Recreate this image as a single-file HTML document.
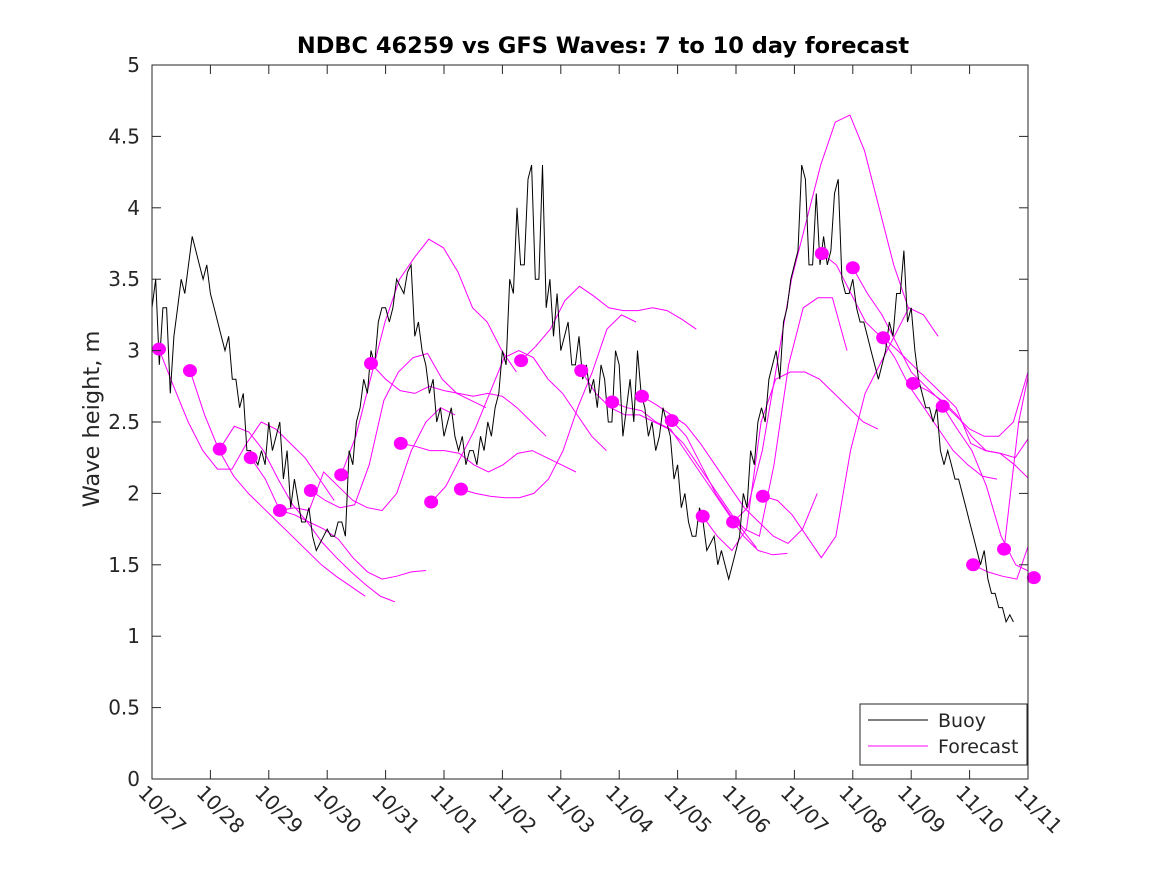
<!DOCTYPE html>
<html><head><meta charset="utf-8"><style>
body{margin:0;background:#fff;}
svg text{font-family:"DejaVu Sans","Liberation Sans",sans-serif;fill:#262626;}
</style></head><body>
<svg id="chart" width="1167" height="875" viewBox="0 0 1167 875" xmlns="http://www.w3.org/2000/svg">
<rect width="1167" height="875" fill="#fff"/>
<text x="603" y="53" text-anchor="middle" font-size="22.5" font-weight="bold" style="fill:#000">NDBC 46259 vs GFS Waves: 7 to 10 day forecast</text>
<text transform="translate(99,419) rotate(-90)" text-anchor="middle" font-size="22.5">Wave height, m</text>
<defs><clipPath id="pc"><rect x="152" y="65" width="876" height="714"/></clipPath></defs>
<g id="plot" clip-path="url(#pc)"></g>
<g id="dots"></g>
<g id="axes"></g>
<g>
<rect x="860" y="704" width="167" height="61" fill="#fff" stroke="#262626" stroke-width="1"/>
<line x1="868" y1="720" x2="928" y2="720" stroke="#000" stroke-width="1"/>
<text x="938" y="727" font-size="19">Buoy</text>
<line x1="868" y1="746" x2="928" y2="746" stroke="#f0f" stroke-width="1"/>
<text x="938" y="753" font-size="19">Forecast</text>
</g>
</svg>
<script>
const xTickLabels=["10/27","10/28","10/29","10/30","10/31","11/01","11/02","11/03","11/04","11/05","11/06","11/07","11/08","11/09","11/10","11/11"];
const yTicks=[0,0.5,1,1.5,2,2.5,3,3.5,4,4.5,5];
const buoyStep=0.0625;
const buoyValues=[3.3,3.5,2.9,3.3,3.3,2.7,3.1,3.3,3.5,3.4,3.6,3.8,3.7,3.6,3.5,3.6,3.4,3.3,3.2,3.1,3.0,3.1,2.8,2.8,2.6,2.7,2.3,2.3,2.25,2.2,2.3,2.2,2.5,2.3,2.4,2.5,2.1,2.3,1.9,2.1,1.95,1.8,1.8,1.9,1.7,1.6,1.65,1.7,1.75,1.7,1.7,1.8,1.8,1.7,2.3,2.2,2.5,2.6,2.8,2.7,3.0,2.9,3.2,3.3,3.3,3.2,3.3,3.5,3.45,3.4,3.55,3.6,3.1,3.2,3.0,2.9,2.7,2.8,2.5,2.6,2.4,2.5,2.6,2.4,2.3,2.4,2.2,2.3,2.3,2.2,2.4,2.3,2.5,2.4,2.6,2.7,3.0,2.9,3.5,3.4,4.0,3.6,3.6,4.2,4.3,3.5,3.5,4.3,3.3,3.5,3.1,3.4,3.0,3.1,3.2,2.9,2.9,3.1,2.8,2.9,2.7,2.8,2.6,2.9,2.8,2.5,2.5,3.0,2.9,2.4,2.6,2.8,2.5,3.0,2.7,2.6,2.4,2.5,2.3,2.4,2.6,2.5,2.4,2.1,2.2,1.9,2.0,1.8,1.7,1.7,1.9,1.8,1.6,1.65,1.7,1.5,1.6,1.5,1.4,1.5,1.6,1.7,2.0,1.9,2.3,2.2,2.5,2.6,2.5,2.8,2.9,3.0,2.8,3.2,3.3,3.5,3.6,3.7,4.3,4.2,3.6,3.6,4.1,3.6,3.8,3.6,3.7,4.1,4.2,3.5,3.4,3.4,3.5,3.3,3.2,3.2,3.1,3.0,2.9,2.8,2.9,3.0,3.2,3.1,3.4,3.4,3.7,3.2,3.3,3.0,2.8,2.7,2.6,2.6,2.5,2.6,2.3,2.2,2.3,2.2,2.1,2.1,2.0,1.9,1.8,1.7,1.6,1.5,1.6,1.4,1.3,1.3,1.2,1.2,1.1,1.15,1.1];
const fcStep=0.25;
const fcStarts=[0.12,0.65,1.16,1.69,2.19,2.72,3.24,3.75,4.26,4.78,5.29,6.32,7.35,7.88,8.39,8.9,9.43,9.95,10.46,11.47,12.0,12.52,13.03,13.54,14.06,14.59,15.1];
const fcValues=[
[3.01,2.75,2.5,2.3,2.17,2.17,2.35,2.5,2.45,2.35,2.25,2.1,1.95],
[2.86,2.55,2.3,2.12,2.0,1.9,1.8,1.7,1.6,1.5,1.42,1.35,1.28],
[2.31,2.47,2.43,2.3,2.1,1.92,1.8,1.66,1.55,1.45,1.36,1.28,1.24],
[2.25,2.1,1.88,1.85,1.8,1.75,1.68,1.55,1.45,1.4,1.42,1.45,1.46],
[1.88,1.9,1.88,2.15,2.05,1.95,1.9,1.88,2.0,2.3,2.5,2.6,2.55],
[2.02,1.95,1.9,1.92,2.2,2.65,2.85,2.95,2.98,2.8,2.7,2.65,2.6],
[2.13,2.4,2.8,3.2,3.5,3.65,3.78,3.72,3.55,3.3,3.2,3.0,2.85],
[2.91,2.8,2.72,2.7,2.75,2.72,2.7,2.68,2.7,2.68,2.6,2.5,2.4],
[2.35,2.33,2.3,2.3,2.28,2.2,2.15,2.2,2.28,2.3,2.25,2.2,2.15],
[1.94,2.05,2.25,2.45,2.7,2.95,3.0,2.95,2.8,2.7,2.55,2.4,2.3],
[2.03,2.0,1.98,1.97,1.97,2.0,2.1,2.3,2.6,2.85,3.15,3.25,3.2],
[2.93,3.03,3.15,3.35,3.45,3.38,3.3,3.28,3.28,3.3,3.28,3.22,3.15],
[2.86,2.7,2.6,2.55,2.55,2.5,2.45,2.35,2.2,2.05,1.9,1.75,1.62],
[2.64,2.6,2.58,2.5,2.45,2.3,2.15,2.0,1.85,1.7,1.6,1.57,1.58],
[2.68,2.62,2.55,2.48,2.35,2.2,2.05,1.9,1.8,1.7,1.65,1.75,2.0],
[2.51,2.4,2.2,2.0,1.85,1.75,1.7,2.2,2.9,3.3,3.37,3.37,3.0],
[1.84,1.7,1.6,1.75,2.5,2.8,2.85,2.85,2.8,2.7,2.6,2.5,2.45],
[1.80,1.9,2.3,2.9,3.5,3.9,4.3,4.6,4.65,4.4,4.0,3.6,3.3],
[1.98,1.95,1.85,1.7,1.55,1.7,2.3,2.7,2.9,3.1,3.3,3.25,3.1],
[3.68,3.6,3.4,3.2,3.1,2.95,2.75,2.6,2.45,2.3,2.2,2.12,2.1],
[3.58,3.4,3.25,3.05,2.85,2.75,2.65,2.55,2.45,2.4,2.4,2.5,2.85],
[3.09,3.0,2.9,2.8,2.7,2.6,2.35,2.3,2.28,2.2,2.1,2.0,2.1],
[2.77,2.72,2.65,2.55,2.4,2.3,2.28,2.25,2.4,2.5,2.4,2.3,2.2],
[2.61,2.45,2.3,2.05,1.7,1.5,1.45,2.0,3.0,3.6,3.8,3.85,3.75],
[1.50,1.45,1.42,1.4,1.7,2.3,3.2,3.6,3.75,3.6,3.5,3.5,3.5],
[1.61,2.5,3.0,3.25,3.3,3.15,3.0],
[1.41,1.9,2.5,3.0]
];
const X0=152,X1=1028,Y0=779,Y1=65;
const xs=d=>X0+(X1-X0)*d/15;
const ys=v=>Y0-(Y0-Y1)*v/5;
const NS="http://www.w3.org/2000/svg";
function mk(tag,attrs,parent){const e=document.createElementNS(NS,tag);for(const k in attrs)e.setAttribute(k,attrs[k]);parent.appendChild(e);return e;}
const plot=document.getElementById('plot'),dots=document.getElementById('dots'),axes=document.getElementById('axes');
fcValues.forEach((vals,i)=>{
  const pts=vals.map((v,j)=>xs(fcStarts[i]+j*fcStep).toFixed(1)+","+ys(v).toFixed(1)).join(" ");
  const pl=mk('polyline',{points:pts,fill:"none",stroke:"#f0f","stroke-width":1},plot);
  
  
});
const bp=buoyValues.map((v,j)=>xs(j*buoyStep).toFixed(1)+","+ys(v).toFixed(1)).join(" ");
const bl=mk('polyline',{points:bp,fill:"none",stroke:"#000","stroke-width":1},plot);


fcValues.forEach((vals,i)=>{
  const c=mk('ellipse',{cx:xs(fcStarts[i]),cy:ys(vals[0]),rx:7,ry:6.5,fill:"#f0f"},dots);
  
  
});
mk('rect',{x:X0,y:Y1,width:X1-X0,height:Y0-Y1,fill:"none",stroke:"#262626","stroke-width":1},axes);
yTicks.forEach(v=>{
  const y=ys(v);
  mk('line',{x1:X0,y1:y,x2:X0+9,y2:y,stroke:"#262626"},axes);
  mk('line',{x1:X1,y1:y,x2:X1-9,y2:y,stroke:"#262626"},axes);
  const t=mk('text',{x:X0-12,y:y+7,"text-anchor":"end","font-size":20},axes);
  t.textContent=String(v);
  
  
});
xTickLabels.forEach((lab,i)=>{
  const x=xs(i);
  mk('line',{x1:x,y1:Y0,x2:x,y2:Y0-9,stroke:"#262626"},axes);
  mk('line',{x1:x,y1:Y1,x2:x,y2:Y1+9,stroke:"#262626"},axes);
  const t=mk('text',{transform:`translate(${x-15},${Y0+15}) rotate(45)`,"font-size":20},axes);
  t.textContent=lab;
  
  
});
</script>
</body></html>
